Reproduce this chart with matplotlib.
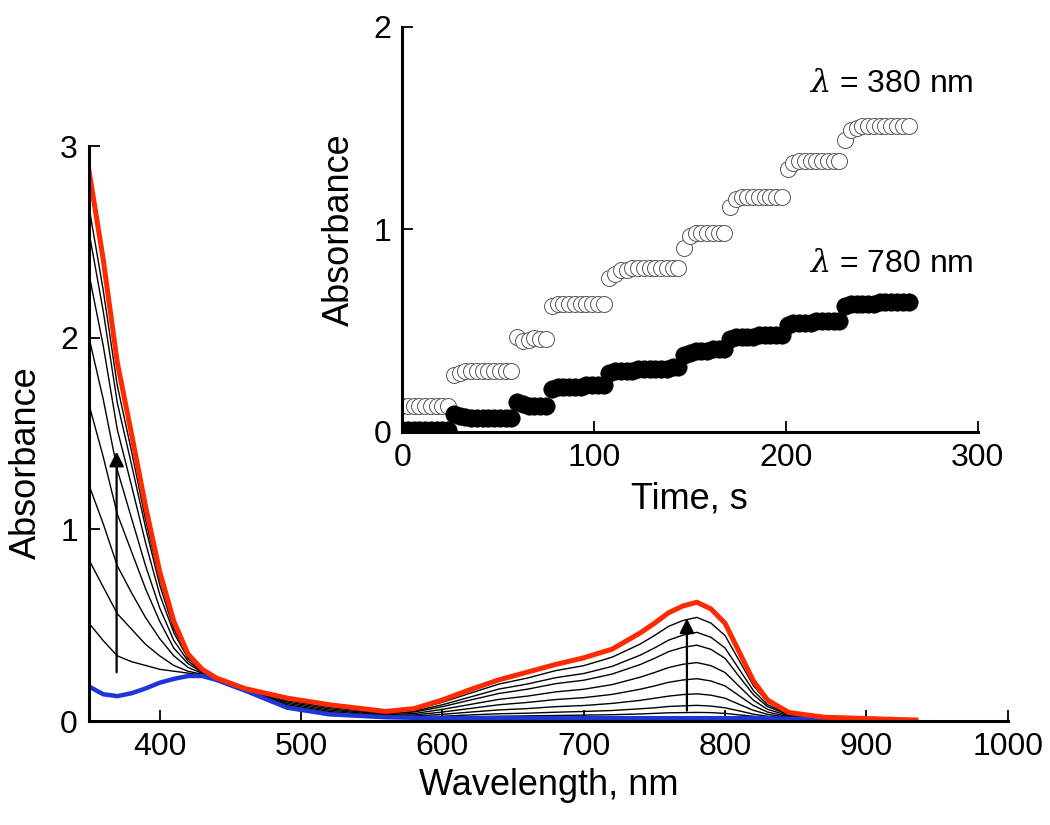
import matplotlib
matplotlib.use("Agg")
import matplotlib.pyplot as plt

plt.rcParams['font.family'] = ['Liberation Sans', 'DejaVu Sans']
plt.rcParams['mathtext.fontset'] = 'custom'
plt.rcParams['mathtext.it'] = 'DejaVu Serif:italic'

# ---- spectra (absorbance vs wavelength) ----
wl = [350, 360, 370, 380, 390, 400, 410, 420, 430, 440, 460, 490, 520,
      560, 580, 600, 620, 640, 660, 680, 700, 720, 740, 750, 760, 770, 780,
      790, 800, 810, 820, 830, 845, 870, 935]

abs_start = [0.18, 0.14, 0.13, 0.145, 0.17, 0.20, 0.22, 0.235, 0.235, 0.215, 0.16, 0.07, 0.035,
             0.02, 0.017, 0.015, 0.015, 0.015, 0.015, 0.015, 0.015, 0.015, 0.015, 0.015, 0.015, 0.015, 0.015,
             0.015, 0.015, 0.015, 0.015, 0.015, 0.012, 0.01, 0.005]

abs_end = [2.87, 2.41, 1.87, 1.50, 1.12, 0.78, 0.52, 0.35, 0.27, 0.225, 0.17, 0.12, 0.085,
           0.05, 0.065, 0.11, 0.165, 0.215, 0.255, 0.295, 0.33, 0.375, 0.46, 0.51, 0.565, 0.60, 0.62,
           0.585, 0.51, 0.36, 0.21, 0.11, 0.045, 0.02, 0.005]

# intermediate spectra, first to last
abs_mid = [
    [0.51, 0.42, 0.34, 0.31, 0.29, 0.27, 0.26, 0.25, 0.24, 0.22, 0.16, 0.074, 0.039,
     0.022, 0.02, 0.02, 0.023, 0.025, 0.027, 0.029, 0.031, 0.033, 0.037, 0.04, 0.043, 0.044, 0.045,
     0.044, 0.04, 0.032, 0.025, 0.02, 0.014, 0.01, 0.005],
    [0.84, 0.70, 0.56, 0.48, 0.40, 0.34, 0.29, 0.26, 0.244, 0.217, 0.162, 0.079, 0.044,
     0.023, 0.021, 0.025, 0.032, 0.038, 0.041, 0.046, 0.050, 0.055, 0.064, 0.069, 0.076, 0.079, 0.082,
     0.078, 0.069, 0.053, 0.036, 0.025, 0.016, 0.011, 0.005],
    [1.23, 1.03, 0.81, 0.67, 0.54, 0.43, 0.34, 0.28, 0.249, 0.219, 0.164, 0.085, 0.05,
     0.026, 0.026, 0.035, 0.047, 0.058, 0.065, 0.075, 0.081, 0.092, 0.108, 0.119, 0.13, 0.138, 0.142,
     0.135, 0.119, 0.087, 0.056, 0.035, 0.019, 0.012, 0.005],
    [1.65, 1.38, 1.08, 0.885, 0.69, 0.52, 0.38, 0.30, 0.254, 0.22, 0.165, 0.092, 0.057,
     0.03, 0.032, 0.047, 0.066, 0.085, 0.097, 0.112, 0.122, 0.139, 0.166, 0.183, 0.202, 0.214, 0.221,
     0.209, 0.183, 0.132, 0.081, 0.047, 0.023, 0.013, 0.005],
    [2.00, 1.68, 1.31, 1.06, 0.81, 0.59, 0.42, 0.313, 0.259, 0.222, 0.167, 0.099, 0.064,
     0.034, 0.039, 0.061, 0.087, 0.113, 0.130, 0.152, 0.166, 0.19, 0.229, 0.253, 0.279, 0.296, 0.305,
     0.289, 0.253, 0.181, 0.109, 0.061, 0.028, 0.015, 0.005],
    [2.33, 1.96, 1.52, 1.23, 0.93, 0.66, 0.46, 0.327, 0.263, 0.223, 0.168, 0.106, 0.071,
     0.039, 0.047, 0.075, 0.110, 0.144, 0.166, 0.195, 0.213, 0.245, 0.295, 0.327, 0.362, 0.384, 0.396,
     0.374, 0.327, 0.232, 0.138, 0.075, 0.033, 0.016, 0.005],
    [2.55, 2.14, 1.66, 1.34, 1.01, 0.71, 0.48, 0.336, 0.266, 0.224, 0.169, 0.111, 0.076,
     0.042, 0.052, 0.085, 0.126, 0.167, 0.193, 0.226, 0.248, 0.285, 0.344, 0.381, 0.422, 0.448, 0.463,
     0.437, 0.381, 0.27, 0.159, 0.085, 0.036, 0.017, 0.005],
    [2.68, 2.25, 1.75, 1.41, 1.05, 0.74, 0.50, 0.342, 0.268, 0.224, 0.169, 0.115, 0.08,
     0.047, 0.059, 0.098, 0.146, 0.193, 0.224, 0.263, 0.289, 0.333, 0.402, 0.446, 0.494, 0.524, 0.541,
     0.511, 0.446, 0.315, 0.185, 0.098, 0.041, 0.019, 0.005],
]

# ---- kinetics (inset) ----
t_s = list(range(0, 267, 3))

abs_380 = [0.13, 0.13, 0.13, 0.13, 0.13, 0.13, 0.13, 0.13, 0.13,
           0.28, 0.29, 0.30, 0.30, 0.30, 0.30, 0.30, 0.30, 0.30, 0.30, 0.30,
           0.47, 0.45, 0.455, 0.465, 0.46, 0.46,
           0.62, 0.63, 0.63, 0.63, 0.63, 0.63, 0.63, 0.63, 0.63, 0.63,
           0.76, 0.78, 0.80, 0.80, 0.81, 0.81, 0.81, 0.81, 0.81, 0.81, 0.81, 0.81, 0.81,
           0.91, 0.97, 0.98, 0.98, 0.98, 0.98, 0.98, 0.98,
           1.11, 1.15, 1.16, 1.16, 1.16, 1.16, 1.16, 1.16, 1.16, 1.16,
           1.30, 1.33, 1.34, 1.34, 1.34, 1.34, 1.34, 1.34, 1.34, 1.34,
           1.44, 1.49, 1.50, 1.51, 1.51, 1.51, 1.51, 1.51, 1.51, 1.51, 1.51, 1.51]

abs_780 = [0.01, 0.01, 0.01, 0.01, 0.01, 0.01, 0.01, 0.01, 0.01,
           0.09, 0.08, 0.075, 0.07, 0.07, 0.07, 0.07, 0.07, 0.07, 0.07, 0.07,
           0.15, 0.14, 0.13, 0.13, 0.13, 0.13,
           0.21, 0.22, 0.22, 0.22, 0.22, 0.22, 0.23, 0.23, 0.23, 0.23,
           0.29, 0.30, 0.30, 0.30, 0.30, 0.31, 0.31, 0.31, 0.31, 0.31, 0.31, 0.32, 0.32,
           0.38, 0.39, 0.40, 0.40, 0.40, 0.41, 0.41, 0.41,
           0.46, 0.47, 0.47, 0.47, 0.47, 0.48, 0.48, 0.48, 0.48, 0.48,
           0.53, 0.54, 0.54, 0.54, 0.54, 0.55, 0.55, 0.55, 0.55, 0.55,
           0.62, 0.63, 0.63, 0.63, 0.63, 0.63, 0.64, 0.64, 0.64, 0.64, 0.64, 0.64]

FS = 23   # tick labels
LS = 26   # axis labels

fig = plt.figure(figsize=(10.5, 8.25), dpi=100)
ax = fig.add_axes([0.0848, 0.126, 0.875, 0.697])

for y in abs_mid:
    ax.plot(wl, y, color='black', lw=1.0)
ax.plot(wl, abs_start, color='#1f35d8', lw=3.2)
ax.plot(wl, abs_end, color='#ff2a00', lw=3.6)

arrow = dict(arrowstyle='-|>', color='black', lw=1.6, mutation_scale=22)
ax.annotate('', xy=(369.5, 1.42), xytext=(369.5, 0.24), arrowprops=arrow)
ax.annotate('', xy=(773, 0.55), xytext=(773, 0.04), arrowprops=arrow)

ax.set_xlim(350, 1000)
ax.set_ylim(0, 3)
ax.set_xticks([400, 500, 600, 700, 800, 900, 1000])
ax.set_yticks([0, 1, 2, 3])
ax.spines['top'].set_visible(False)
ax.spines['right'].set_visible(False)
for s in ('left', 'bottom'):
    ax.spines[s].set_linewidth(2.2)
ax.tick_params(direction='in', length=8, width=1.3, labelsize=FS, pad=8)
ax.set_xlabel('Wavelength, nm', fontsize=LS, labelpad=4)
ax.set_ylabel('Absorbance', fontsize=LS, labelpad=8)
ax.yaxis.set_label_coords(-0.049, 0.45)

# inset: kinetics
ins = fig.add_axes([0.383, 0.4764, 0.548, 0.491])
ins.plot(t_s, abs_380, 'o', ms=11.5, mfc='white', mec='#555555', mew=0.7)
ins.plot(t_s, abs_780, 'o', ms=12.5, mfc='black', mec='black', mew=0.5)
ins.set_xlim(0, 300)
ins.set_ylim(0, 2)
ins.set_xticks([0, 100, 200, 300])
ins.set_yticks([0, 1, 2])
ins.spines['top'].set_visible(False)
ins.spines['right'].set_visible(False)
for s in ('left', 'bottom'):
    ins.spines[s].set_linewidth(2.2)
ins.patch.set_alpha(0)
ins.tick_params(direction='in', length=8, width=1.3, labelsize=FS, pad=8)
ins.set_xlabel('Time, s', fontsize=LS, labelpad=6)
ins.set_ylabel('Absorbance', fontsize=LS, labelpad=12)
ins.text(298, 1.72, r'$\mathit{\lambda}$ = 380 nm', fontsize=FS, ha='right', va='center')
ins.text(298, 0.83, r'$\mathit{\lambda}$ = 780 nm', fontsize=FS, ha='right', va='center')

fig.savefig('out.png', dpi=100)
